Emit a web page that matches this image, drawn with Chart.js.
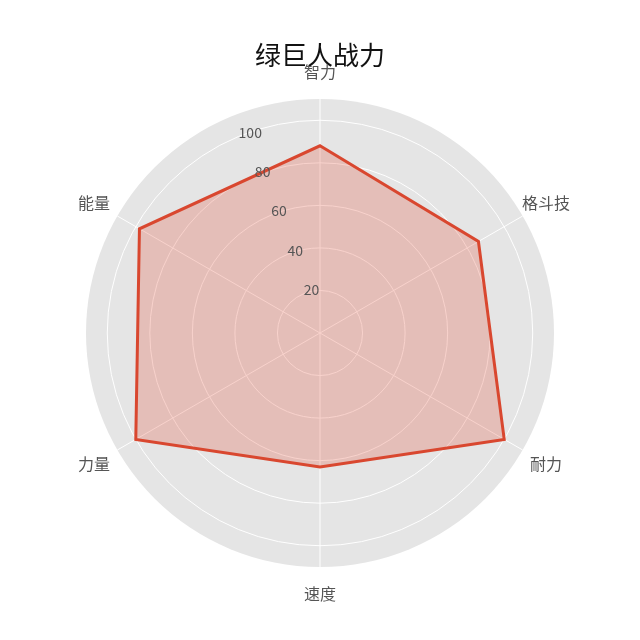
<!DOCTYPE html>
<html>
<head>
<meta charset="utf-8">
<script src="https://cdn.jsdelivr.net/npm/chart.js@4/dist/chart.umd.min.js"></script>
<style>
  html, body { margin: 0; padding: 0; background: #fff; }
  #wrap { width: 640px; height: 640px; }
</style>
</head>
<body>
<div id="wrap"><canvas id="radar"></canvas></div>
<script>
// chart data
const categories = ['智力', '格斗技', '耐力', '速度', '力量', '能量'];
const powerValues = [88, 86, 100, 63, 100, 98];
const tickValues = [20, 40, 60, 80, 100];
const chartTitle = '绿巨人战力';

const FONT = '"Noto Sans CJK SC", "DejaVu Sans", sans-serif';

// gray disc behind the grid, like the ggplot polar background
const polarBackground = {
  id: 'polarBackground',
  beforeDraw(chart) {
    const r = chart.scales.r;
    const ctx = chart.ctx;
    ctx.save();
    ctx.fillStyle = '#E5E5E5';
    ctx.beginPath();
    ctx.arc(r.xCenter, r.yCenter, r.drawingArea, 0, Math.PI * 2);
    ctx.fill();
    ctx.restore();
  }
};

// radial tick labels at 22.5 deg and category labels centred outside the disc
const polarLabels = {
  id: 'polarLabels',
  afterDraw(chart) {
    const r = chart.scales.r;
    const ctx = chart.ctx;
    ctx.save();
    ctx.fillStyle = '#555555';

    ctx.font = '14px ' + FONT;
    ctx.textAlign = 'left';
    ctx.textBaseline = 'bottom';
    const a = 22.5 * Math.PI / 180;
    tickValues.forEach(v => {
      const d = r.getDistanceFromCenterForValue(v);
      ctx.fillText(String(v), r.xCenter - d * Math.sin(a), r.yCenter - d * Math.cos(a) + 3);
    });

    ctx.font = '16px ' + FONT;
    ctx.textAlign = 'center';
    ctx.textBaseline = 'middle';
    categories.forEach((label, i) => {
      const p = r.getPointPosition(i, r.drawingArea + 27);
      ctx.fillText(label, p.x, p.y);
    });
    ctx.restore();
  }
};

new Chart(document.getElementById('radar'), {
  type: 'radar',
  data: {
    labels: categories,
    datasets: [{
      label: chartTitle,
      data: powerValues,
      borderColor: '#D9472F',
      backgroundColor: 'rgba(226, 74, 51, 0.25)',
      borderWidth: 3,
      pointRadius: 0,
      pointHoverRadius: 0,
      fill: true
    }]
  },
  options: {
    responsive: true,
    maintainAspectRatio: false,
    animation: false,
    layout: { padding: { left: 85, right: 85, top: 0, bottom: 72 } },
    plugins: {
      legend: { display: false },
      tooltip: { enabled: false },
      title: {
        display: true,
        text: chartTitle,
        color: '#111111',
        font: { family: FONT, size: 26, weight: 'normal' },
        padding: { top: 40, bottom: 27 }
      }
    },
    scales: {
      r: {
        min: 0,
        max: 110,
        startAngle: 0,
        ticks: { display: false, stepSize: 20 },
        pointLabels: { display: false },
        angleLines: { color: '#FFFFFF', lineWidth: 1 },
        grid: {
          circular: true,
          lineWidth: 1,
          color: ctx => tickValues.includes(ctx.tick && ctx.tick.value) ? '#FFFFFF' : 'rgba(0,0,0,0)'
        }
      }
    }
  },
  plugins: [polarBackground, polarLabels]
});
</script>
</body>
</html>
